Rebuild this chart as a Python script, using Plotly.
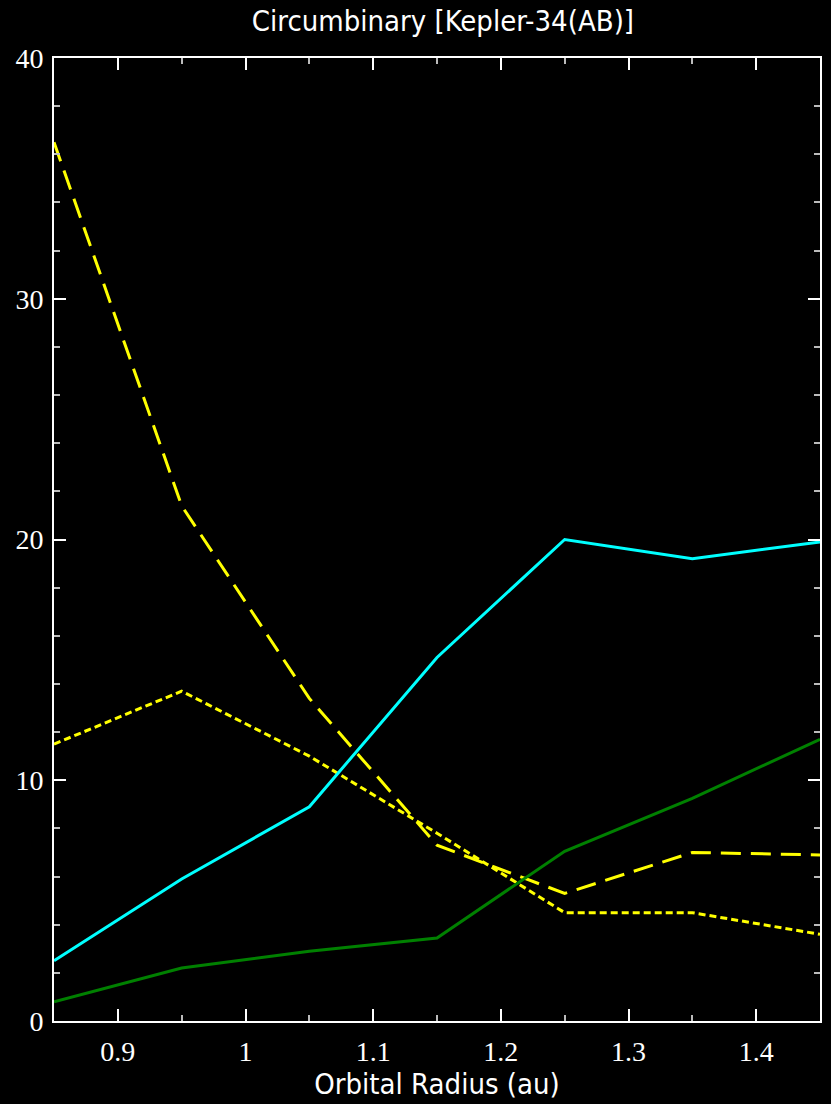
import plotly.graph_objects as go

# Orbital radius sample points (au)
radius = [0.85, 0.95, 1.05, 1.15, 1.25, 1.35, 1.45]

# Series values per radius
yellow_dash = [36.5, 21.4, 13.4, 7.3, 5.3, 7.0, 6.9]
yellow_dot = [11.5, 13.7, 11.0, 7.8, 4.5, 4.5, 3.6]
cyan_line = [2.5, 5.9, 8.9, 15.1, 20.0, 19.2, 19.9]
green_line = [0.8, 2.2, 2.9, 3.45, 7.05, 9.25, 11.7]

x_ticks = [0.9, 1.0, 1.1, 1.2, 1.3, 1.4]
x_labels = ["0.9", "1", "1.1", "1.2", "1.3", "1.4"]
y_ticks = [0, 10, 20, 30, 40]

fig = go.Figure()
fig.add_trace(go.Scatter(x=radius, y=yellow_dash, mode="lines",
                         line=dict(color="#ffff00", width=3, dash="20px,10px")))
fig.add_trace(go.Scatter(x=radius, y=yellow_dot, mode="lines",
                         line=dict(color="#ffff00", width=3, dash="7px,4px")))
fig.add_trace(go.Scatter(x=radius, y=cyan_line, mode="lines",
                         line=dict(color="#00ffff", width=3)))
fig.add_trace(go.Scatter(x=radius, y=green_line, mode="lines",
                         line=dict(color="#008000", width=3)))

serif = "Liberation Serif, Times New Roman, serif"
sans = "DejaVu Sans Condensed, DejaVu Sans, sans-serif"

fig.update_layout(
    width=831, height=1104,
    paper_bgcolor="black", plot_bgcolor="black",
    margin=dict(l=54, r=9, t=58, b=83),
    showlegend=False,
    title=dict(text="Circumbinary [Kepler-34(AB)]", x=0.533, xanchor="center",
               y=1 - 21 / 1104, yanchor="middle",
               font=dict(family=sans, size=29, color="white")),
    xaxis=dict(
        range=[0.85, 1.45], tickvals=x_ticks, ticktext=x_labels,
        showgrid=False, zeroline=False,
        showline=True, linecolor="white", linewidth=2, mirror="ticks",
        ticks="inside", ticklen=12, tickwidth=1.5, tickcolor="white",
        minor=dict(dtick=0.1, tick0=0.85, ticks="inside", ticklen=6,
                   tickwidth=1.5, tickcolor="#bbbbbb", showgrid=False),
        tickfont=dict(family=serif, size=28, color="white"),
        ticklabelstandoff=4,
        title=dict(text="Orbital Radius (au)", standoff=6,
                   font=dict(family=sans, size=29, color="white")),
    ),
    yaxis=dict(
        range=[0, 40], tickvals=y_ticks,
        showgrid=False, zeroline=False,
        showline=True, linecolor="white", linewidth=2, mirror="ticks",
        ticks="inside", ticklen=12, tickwidth=1.5, tickcolor="white",
        minor=dict(dtick=2, ticks="inside", ticklen=6,
                   tickwidth=1.5, tickcolor="#bbbbbb", showgrid=False),
        tickfont=dict(family=serif, size=28, color="white"),
        ticklabelstandoff=3,
    ),
)

fig.write_html("out.html")
